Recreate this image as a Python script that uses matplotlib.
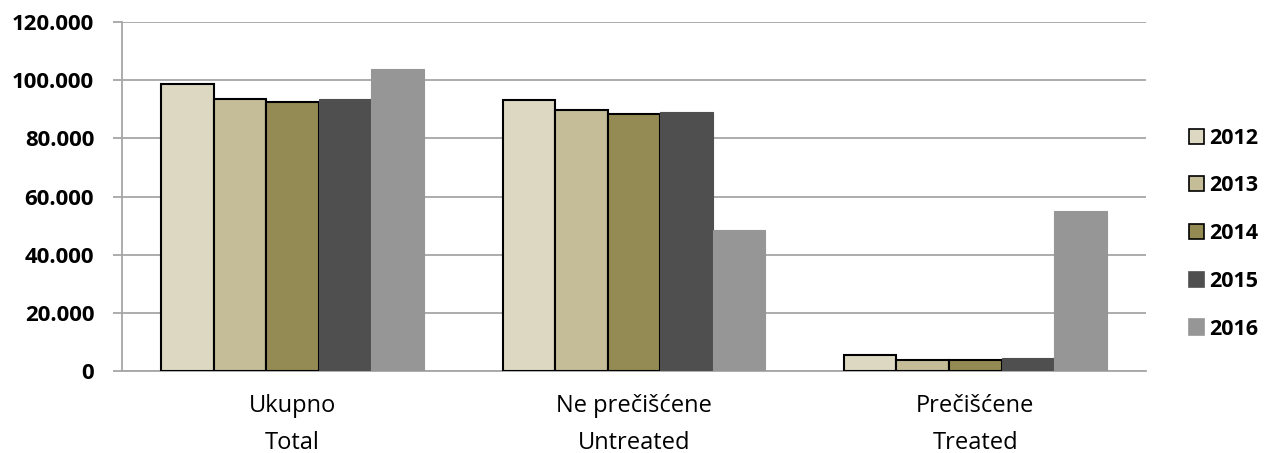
import numpy as np
import matplotlib.pyplot as plt
from matplotlib.ticker import FuncFormatter
from matplotlib.patches import Patch

plt.rcParams['font.family'] = ['Open Sans', 'DejaVu Sans']

# Categories and yearly values
CATEGORIES = ['Ukupno\nTotal', 'Ne prečišćene\nUntreated', 'Prečišćene\nTreated']
YEARS = ['2012', '2013', '2014', '2015', '2016']
V2012 = [98700, 93300, 5500]
V2013 = [93600, 89700, 3700]
V2014 = [92600, 88300, 3700]
V2015 = [93500, 89200, 4600]
V2016 = [103800, 48600, 55200]

COLORS = ['#DDD8C2', '#C4BD97', '#948A54', '#4F4F4F', '#969696']
EDGES = ['black', 'black', 'black', '#4F4F4F', '#969696']

series = [V2012, V2013, V2014, V2015, V2016]

fig = plt.figure(figsize=(12.72, 4.53), dpi=100)
ax = fig.add_axes([0.0959, 0.181, 0.805, 0.770])

x = np.arange(len(CATEGORIES))
width = 0.154
for i, vals in enumerate(series):
    lw = 1.5 if EDGES[i] == 'black' else 0.8
    ax.bar(x + (i - 2) * width, vals, width, color=COLORS[i],
           edgecolor=EDGES[i], linewidth=lw, zorder=3)

ax.set_xlim(-0.5, 2.5)
ax.set_ylim(0, 120000)
ax.set_yticks(np.arange(0, 120001, 20000))
ax.yaxis.set_major_formatter(FuncFormatter(lambda v, p: f'{int(v):,}'.replace(',', '.')))
ax.grid(axis='y', color='#A6A6A6', linewidth=1.3, zorder=0)

for s in ['top', 'right']:
    ax.spines[s].set_visible(False)
ax.spines['left'].set_color('#A6A6A6')
ax.spines['left'].set_linewidth(1.3)
ax.spines['bottom'].set_color('#A6A6A6')
ax.spines['bottom'].set_linewidth(1.3)

ax.tick_params(axis='y', length=6.5, width=1.3, color='#A6A6A6', pad=13.5, labelsize=16)
for t in ax.get_yticklabels():
    t.set_fontweight('bold')
ax.set_xticks(x)
ax.set_xticklabels(CATEGORIES, fontsize=17, linespacing=1.74)
ax.tick_params(axis='x', length=0, pad=16.5)

handles = [Patch(facecolor=COLORS[i], edgecolor=EDGES[i] if EDGES[i] == 'black' else COLORS[i],
                 linewidth=1.2) for i in range(5)]
leg = fig.legend(handles, YEARS, loc='upper left', bbox_to_anchor=(0.928, 0.737),
                 frameon=False, prop={'weight': 'bold', 'size': 15.5},
                 handlelength=0.7, handleheight=0.7, handletextpad=0.25,
                 labelspacing=1.24, borderaxespad=0)

fig.savefig('out.png', dpi=100)
